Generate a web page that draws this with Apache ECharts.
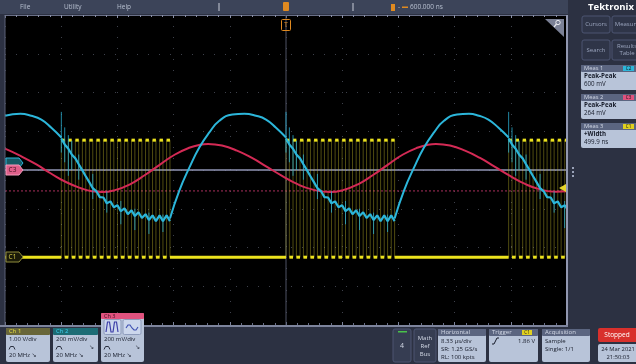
<!DOCTYPE html>
<html>
<head>
<meta charset="utf-8">
<script src="https://cdn.jsdelivr.net/npm/echarts@6/dist/echarts.min.js"></script>
<style>
html,body{margin:0;padding:0;background:#2c3142;overflow:hidden}
#chart{width:636px;height:364px}
</style>
</head>
<body>
<div id="chart"></div>
<script>
// ---------- scope settings ----------
const timeRangeUs = [-41.65, 41.65];   // 10 div x 8.33 us/div, trigger at centre
const timePerDivUs = 8.33;
const vertRangeDiv = [-4, 4];          // 8 vertical divisions

// ---------- Ch1 (yellow) gate pulses, levels in divisions ----------
const c1High = 0.77;
const c1Low = -2.25;
const c1WidthUs = 0.5;                 // +Width 499.9 ns
const c1RiseBurst1 = [-33.3,-32.26,-31.22,-30.18,-29.14,-28.1,-27.06,-26.02,-24.98,-23.94,-22.9,-21.86,-20.82,-19.78,-18.74,-17.7];
const c1RiseBurst2 = [0,1.04,2.08,3.12,4.16,5.2,6.24,7.28,8.32,9.36,10.4,11.44,12.48,13.52,14.56,15.6];
const c1RiseBurst3 = [33.0,34.04,35.08,36.12,37.16,38.2,39.24,40.28,41.32];

// ---------- Ch2 (cyan) ----------
const c2SmoothA = [[-41.65,1.40],[-39.38,1.45],[-37.75,1.40],[-36.26,1.30],[-34.78,1.09],[-33.3,0.84]];
const c2SmoothB = [[-17.2,-1.25],[-15.81,-0.53],[-14.33,0.06],[-12.85,0.58],[-11.36,0.97],[-9.88,1.27],[-7.95,1.43],[-6.18,1.45],[-4.45,1.40],[-2.96,1.30],[-1.48,1.09],[0,0.84]];
const c2SmoothC = [[16.1,-1.25],[17.49,-0.53],[18.97,0.06],[20.45,0.58],[21.94,0.97],[23.42,1.27],[25.35,1.43],[27.12,1.45],[28.6,1.40],[30.0,1.30],[31.5,1.09],[33.0,0.84]];
const c2Ripple1 = [[-33.3,0.81],[-32.8,0.66],[-32.26,0.55],[-31.76,0.40],[-31.22,0.30],[-30.72,0.15],[-30.18,-0.01],[-29.68,-0.16],[-29.14,-0.32],[-28.64,-0.47],[-28.1,-0.55],[-27.6,-0.70],[-27.06,-0.71],[-26.56,-0.86],[-26.02,-0.81],[-25.52,-0.96],[-24.98,-0.91],[-24.48,-1.06],[-23.94,-0.99],[-23.44,-1.14],[-22.9,-1.04],[-22.4,-1.19],[-21.86,-1.09],[-21.36,-1.24],[-20.82,-1.14],[-20.32,-1.29],[-19.78,-1.17],[-19.28,-1.32],[-18.74,-1.17],[-18.24,-1.32],[-17.7,-1.17],[-17.2,-1.32]];
const c2Ripple2 = [[0,0.81],[0.5,0.66],[1.04,0.55],[1.54,0.40],[2.08,0.30],[2.58,0.15],[3.12,-0.01],[3.62,-0.16],[4.16,-0.32],[4.66,-0.47],[5.2,-0.55],[5.7,-0.70],[6.24,-0.71],[6.74,-0.86],[7.28,-0.81],[7.78,-0.96],[8.32,-0.91],[8.82,-1.06],[9.36,-0.99],[9.86,-1.14],[10.4,-1.04],[10.9,-1.19],[11.44,-1.09],[11.94,-1.24],[12.48,-1.14],[12.98,-1.29],[13.52,-1.17],[14.02,-1.32],[14.56,-1.17],[15.06,-1.32],[15.6,-1.17],[16.1,-1.32]];
const c2Ripple3 = [[33.0,0.81],[33.5,0.66],[34.04,0.55],[34.54,0.40],[35.08,0.30],[35.58,0.15],[36.12,-0.01],[36.62,-0.16],[37.16,-0.32],[37.66,-0.47],[38.2,-0.55],[38.7,-0.70],[39.24,-0.71],[39.74,-0.86],[40.28,-0.81],[40.78,-0.96],[41.32,-0.91],[41.65,-1.0]];
const c2Spikes = [
  [-33.3,0.45,1.5],[-32.8,0.2,1.1],[-32.26,-0.15,0.9],[-31.76,0.0,0.75],[-30.72,-0.25,0.4],[-28.64,-0.75,-0.1],[-26.56,-1.1,-0.55],[-24.48,-1.4,-0.8],[-22.4,-1.55,-1.0],[-20.32,-1.65,-1.1],[-18.24,-1.6,-1.15],
  [0,0.45,1.5],[0.5,0.2,1.1],[1.04,-0.15,0.9],[1.54,0.0,0.75],[2.58,-0.25,0.4],[4.66,-0.75,-0.1],[6.74,-1.1,-0.55],[8.82,-1.4,-0.8],[10.9,-1.55,-1.0],[12.98,-1.65,-1.1],[15.06,-1.6,-1.15],
  [33.0,0.45,1.5],[33.5,0.2,1.1],[34.04,-0.15,0.9],[34.54,0.0,0.75],[35.58,-0.25,0.4],[37.66,-0.75,-0.1],[39.74,-1.1,-0.55],[41.3,-1.5,-0.8]
];

// ---------- Ch3 (red) ----------
const c3Wave = [[-41.65,0.55],[-39.43,0.37],[-37.06,0.15],[-34.84,-0.09],[-32.62,-0.31],[-30.39,-0.47],[-28.75,-0.55],[-27.27,-0.57],[-25.35,-0.52],[-23.12,-0.37],[-20.9,-0.13],[-18.68,0.14],[-16.45,0.40],[-14.23,0.58],[-12.75,0.65],[-11.56,0.67],[-9.49,0.63],[-7.26,0.50],[-5.04,0.31],[-2.82,0.08],[-0.59,-0.15],[1.63,-0.36],[3.85,-0.50],[6.52,-0.57],[8.45,-0.52],[10.67,-0.37],[12.9,-0.13],[15.12,0.14],[17.34,0.40],[19.57,0.58],[21.05,0.65],[22.23,0.67],[24.31,0.63],[26.53,0.50],[28.76,0.31],[30.98,0.08],[33.2,-0.15],[35.43,-0.36],[37.65,-0.50],[40.02,-0.56],[41.65,-0.55]];

// ---------- reference lines ----------
const refZeroDiv = 0;
const refDashDiv = -0.54;
const trigLevelDiv = -0.47;

// ---------- build tables ----------
const c1Rises = [...c1RiseBurst1, ...c1RiseBurst2, ...c1RiseBurst3];
const c1Step = [[timeRangeUs[0], c1Low]];
const c1Segs = [];
let prevFall = timeRangeUs[0];
c1Rises.forEach(r => {
  const f = Math.min(r + c1WidthUs, timeRangeUs[1]);
  c1Step.push([r, c1Low], [r, c1High], [f, c1High], [f, c1Low]);
  c1Segs.push([prevFall, r, c1Low]);
  c1Segs.push([r, f, c1High]);
  prevFall = f;
});
if (prevFall < timeRangeUs[1]) { c1Step.push([timeRangeUs[1], c1Low]); c1Segs.push([prevFall, timeRangeUs[1], c1Low]); }

const CY = '#2cb6da', RD = '#d42a55', YL = '#ece21e';

function segRender(color, width) {
  return function (params, api) {
    const a = api.coord([api.value(0), api.value(2)]);
    const b = api.coord([api.value(1), api.value(2)]);
    return {type:'line', shape:{x1:a[0], y1:a[1], x2:b[0], y2:b[1]}, style:{stroke:color, lineWidth:width, lineCap:'butt'}};
  };
}
function spikeRender(params, api) {
  const a = api.coord([api.value(0), api.value(1)]);
  const b = api.coord([api.value(0), api.value(2)]);
  return {type:'line', shape:{x1:a[0], y1:a[1], x2:b[0], y2:b[1]}, style:{stroke:CY, lineWidth:1, opacity:0.75}};
}

// ---------- UI graphics ----------
const G = [];
const FONT = '"Open Sans", "DejaVu Sans", sans-serif';
function rect(x,y,w,h,fill,o) { o=o||{}; G.push({type:'rect', shape:{x:x,y:y,width:w,height:h,r:o.r||0}, style:{fill:fill, stroke:o.stroke||null, lineWidth:o.lw||1}, z:o.z||100, silent:true}); }
function txt(x,y,s,color,size,o) { o=o||{}; G.push({type:'text', x:x, y:y, style:{text:s, fill:color, font:(o.bold?'bold ':'')+size+'px '+FONT, textAlign:o.align||'left', textVerticalAlign:'middle'}, z:o.z||102, silent:true}); }
function poly(pts,fill,stroke,o) { o=o||{}; G.push({type:'polygon', shape:{points:pts}, style:{fill:fill, stroke:stroke||null, lineWidth:o.lw||1}, z:o.z||101, silent:true}); }
function pline(pts,stroke,lw,o) { o=o||{}; G.push({type:'polyline', shape:{points:pts}, style:{fill:null, stroke:stroke, lineWidth:lw||1}, z:o.z||103, silent:true}); }
function hat(x,y,c){ pline([[x,y+2],[x+1.5,y-1],[x+4.5,y-1],[x+6,y+2]], c||'#2a3040', 1); }

const BODY = '#b8c4d9', HEAD = '#5b6580', DARK = '#161b29', LIGHT = '#d3d9e6';

// top bar
rect(0,0,568,14,'#3c4459');
txt(20,7,'File','#b8c0d0',6.5);
txt(64,7,'Utility','#b8c0d0',6.5);
txt(117,7,'Help','#b8c0d0',6.5);
rect(218.5,3,1,8,'#c8ccd8');
rect(352.5,3,1,8,'#c8ccd8');
rect(283,2,6,9,'#e08a20',{r:1});
rect(281.5,19.5,9,11,'rgba(0,0,0,0)',{stroke:'#e08a20',lw:1,r:1});
txt(286,25,'T','#e08a20',7,{align:'center'});
rect(391,4,4,7,'#e08a20');
txt(398,7,'-','#b8c0d0',6.5);
rect(402,6.5,6,1.5,'#e08a20');
txt(410,7.5,'600.000 ns','#b8c0d0',6.5);

// right panel
rect(568,0,68,364,'#2c3142');
txt(611,7.5,'Tektronix','#ffffff',9.5,{align:'center',bold:true});
function btn(x,y,w,h,lines){ rect(x,y,w,h,'#2f3548',{stroke:'#4c5571',r:2}); const n=lines.length; lines.forEach((s,i)=>txt(x+w/2,y+h/2+(i-(n-1)/2)*7,s,'#9aa4bd',6,{align:'center'})); }
btn(582,16,28,17,['Cursors']);
btn(612,16,30,17,['Measure']);
btn(582,40,28,20,['Search']);
btn(612,40,30,20,['Results','Table']);
function meas(y,title,badge,bcol,l1,l2){
  rect(581,y,58,25,BODY,{r:2});
  rect(581,y,58,7,HEAD,{r:1});
  txt(584,y+3.7,title,LIGHT,5.8);
  rect(623,y+1,11,5,bcol);
  txt(628.5,y+3.6,badge,'#111',4.5,{align:'center'});
  txt(584,y+11.5,l1,DARK,6.2,{bold:true});
  txt(584,y+19.5,l2,DARK,6.2);
}
meas(65,'Meas 1','C2',CY,'Peak-Peak','600 mV');
meas(94,'Meas 2','C3','#e0527e','Peak-Peak','264 mV');
meas(123,'Meas 3','C1','#e0d020','+Width','499.9 ns');
rect(572,167,2,2,'#9aa2b8'); rect(572,171,2,2,'#9aa2b8'); rect(572,175,2,2,'#9aa2b8');

// plot frame extras
rect(566,15,2.5,311,'#9197b0',{z:90});
rect(0,325,568,2,'#7d849c',{z:90});
rect(0,327,568,37,'#2c3142',{z:89});
rect(4.5,15,1,310,'#5a6076',{z:90});

// zoom icon
poly([[545,19],[564,19],[564,37]],'#7b8196',null);
G.push({type:'circle', shape:{cx:558,cy:22.5,r:2.2}, style:{fill:null,stroke:'#e6e8ee',lineWidth:1}, z:104, silent:true});
pline([[556.5,24],[554,27]],'#e6e8ee',1.2);

// channel tags on the left
poly([[6,158],[19,158],[23,163],[19,168],[6,168]],'#165a64','#2cb6da');
poly([[6,165],[19,165],[23,170],[19,175],[6,175]],'#e0608a','#f39abb');
txt(12.5,170.3,'C3','#3a0e1e',6.5,{align:'center'});
poly([[6,252],[19,252],[23,257],[19,262],[6,262]],'#1a1a08','#8f8c3c');
txt(12.5,257.3,'C1','#d8cf4a',6.5,{align:'center'});
// trigger level arrow
poly([[559,188],[566,184],[566,192]],'#e6d52a',null);

// bottom channel badges
function chBadge(x,w,head,headTxt,headCol,l1,twoArrows){
  rect(x,328,w,34,BODY,{r:2});
  rect(x,328,w,7,headCol,{r:1});
  txt(x+3,331.7,head,headTxt,6);
  txt(x+3,339.5,l1,DARK,6);
  hat(x+3,347.5);
  if (twoArrows) txt(x+w-4,347.5,'↘',DARK,6,{align:'right'});
  txt(x+3,355.5,'20 MHz ↘',DARK,6);
}
chBadge(6,44,'Ch 1','#e8e040','#68663a','1.00 V/div',false);
chBadge(53,45,'Ch 2','#3fd2f2','#1d6c75','200 mV/div',true);
// Ch3 badge (taller with icons)
rect(101,313,43,49,BODY,{r:2});
rect(101,313,43,6,'#e0527e',{r:1});
txt(104,316.2,'Ch 3','#3a0e1e',5.5);
rect(104,319.5,17,15,'#ccd7ec',{stroke:'#8d9bbb',r:1.5});
rect(123,319.5,18,15,'#ccd7ec',{stroke:'#8d9bbb',r:1.5});
pline([[106,332],[107.5,322],[109.5,322],[111,332],[113,332],[114.5,322],[116.5,322],[118,332]],'#3d3fa8',1.2);
pline([[126,328],[128,325],[130,325],[132,328],[134,330],[136,330],[138,327]],'#3d4fb0',1.1);
txt(104,339.5,'200 mV/div',DARK,6);
hat(104,347.5);
txt(140,347.5,'↘',DARK,6,{align:'right'});
txt(104,355.5,'20 MHz ↘',DARK,6);

// bottom right boxes
rect(393,329,18,33,'#363d52',{stroke:'#4c5571',r:2});
rect(398,331,9,1.5,'#49c24a');
txt(402,346,'4',LIGHT,7,{align:'center'});
rect(414,329,22,33,'#363d52',{stroke:'#4c5571',r:2});
txt(425,338,'Math',LIGHT,6,{align:'center'});
txt(425,346,'Ref',LIGHT,6,{align:'center'});
txt(425,354,'Bus',LIGHT,6,{align:'center'});
function infoBox(x,w,head,lines){
  rect(x,329,w,33,BODY,{r:2});
  rect(x,329,w,7,HEAD,{r:1});
  txt(x+3,332.7,head,LIGHT,6);
  lines.forEach((s,i)=>txt(x+3,341+i*8,s,DARK,6));
}
infoBox(438,48,'Horizontal',['8.33 µs/div','SR: 1.25 GS/s','RL: 100 kpts']);
infoBox(489,49,'Trigger',[]);
rect(522,330,10,5,'#e0d020');
txt(527,332.7,'C1','#222',4.5,{align:'center'});
pline([[492,344],[494,344],[497,338],[499,338]],DARK,1);
txt(535,341,'1.86 V',DARK,6,{align:'right'});
infoBox(542,48,'Acquisition',['Sample','Single: 1/1']);
rect(598,328,40,14,'#d8302c',{r:2});
txt(617,335,'Stopped','#ffffff',6.5,{align:'center'});
rect(598,344,40,18,BODY,{r:2});
txt(618,349.5,'24 Mar 2021',DARK,5.8,{align:'center'});
txt(618,357.5,'21:50:03',DARK,5.8,{align:'center'});

// ---------- chart ----------
const chart = echarts.init(document.getElementById('chart'), null, {renderer:'canvas', width:636, height:364});
const axisCommon = {type:'value', axisLabel:{show:false}};
chart.setOption({
  animation:false,
  backgroundColor:'#2c3142',
  grid:{left:5, top:15, width:562, height:310, show:true, backgroundColor:'#000', borderWidth:0},
  xAxis:[
    Object.assign({}, axisCommon, {position:'bottom', min:timeRangeUs[0], max:timeRangeUs[1], interval:timePerDivUs,
      axisLine:{show:true, onZero:false, lineStyle:{color:'#7d849c', width:1}},
      axisTick:{show:true, inside:true, length:3, lineStyle:{color:'#7d849c'}},
      minorTick:{show:true, splitNumber:5, length:2, lineStyle:{color:'#6a7088'}},
      splitLine:{show:true, lineStyle:{color:'#3e414b', width:1, type:[1,10]}}}),
    Object.assign({}, axisCommon, {position:'top', min:timeRangeUs[0], max:timeRangeUs[1], interval:timePerDivUs,
      axisLine:{show:true, onZero:false, lineStyle:{color:'#6a7088', width:1}},
      axisTick:{show:true, inside:true, length:3, lineStyle:{color:'#8a90a8'}},
      minorTick:{show:true, splitNumber:5, length:2, lineStyle:{color:'#8a90a8'}},
      splitLine:{show:false}})
  ],
  yAxis:[
    Object.assign({}, axisCommon, {position:'left', min:vertRangeDiv[0], max:vertRangeDiv[1], interval:1,
      axisLine:{show:false},
      axisTick:{show:false},
      splitLine:{show:true, lineStyle:{color:'#3e414b', width:1, type:[1,10]}}}),
    Object.assign({}, axisCommon, {position:'right', min:vertRangeDiv[0], max:vertRangeDiv[1], interval:1,
      axisLine:{show:false}, axisTick:{show:false}, splitLine:{show:false}})
  ],
  graphic:{elements:G},
  series:[
    {name:'centreV', type:'line', data:[[0,vertRangeDiv[0]],[0,vertRangeDiv[1]]], symbol:'none', lineStyle:{color:'#4e5264', width:1}, z:1},
    {name:'ref', type:'line', data:[[timeRangeUs[0],refDashDiv],[timeRangeUs[1],refDashDiv]], symbol:'none', lineStyle:{color:'#a8305c', width:1, type:[2,2]}, z:1},
    {name:'offset', type:'line', data:[[timeRangeUs[0],refZeroDiv],[timeRangeUs[1],refZeroDiv]], symbol:'none', lineStyle:{color:'#9296b6', width:1.5}, z:1},
    {name:'Ch1 edges', type:'line', data:c1Step, symbol:'none', lineStyle:{color:'rgba(190,182,40,0.42)', width:1}, z:2},
    {name:'Ch1 levels', type:'custom', renderItem:segRender(YL,3), data:c1Segs, encode:{x:[0,1], y:2}, clip:true, z:3},
    {name:'Ch3', type:'line', data:c3Wave, smooth:0.5, symbol:'none', lineStyle:{color:RD, width:2}, z:4},
    {name:'Ch2 a', type:'line', data:c2SmoothA, smooth:0.5, symbol:'none', lineStyle:{color:CY, width:2}, z:5},
    {name:'Ch2 b', type:'line', data:c2SmoothB, smooth:0.5, symbol:'none', lineStyle:{color:CY, width:2}, z:5},
    {name:'Ch2 c', type:'line', data:c2SmoothC, smooth:0.5, symbol:'none', lineStyle:{color:CY, width:2}, z:5},
    {name:'Ch2 r1', type:'line', data:c2Ripple1, symbol:'none', lineStyle:{color:CY, width:2.2}, z:5},
    {name:'Ch2 r2', type:'line', data:c2Ripple2, symbol:'none', lineStyle:{color:CY, width:2.2}, z:5},
    {name:'Ch2 r3', type:'line', data:c2Ripple3, symbol:'none', lineStyle:{color:CY, width:2.2}, z:5},
    {name:'Ch2 spikes', type:'custom', renderItem:spikeRender, data:c2Spikes, encode:{x:0, y:[1,2]}, clip:true, z:6}
  ]
});
</script>
</body>
</html>
